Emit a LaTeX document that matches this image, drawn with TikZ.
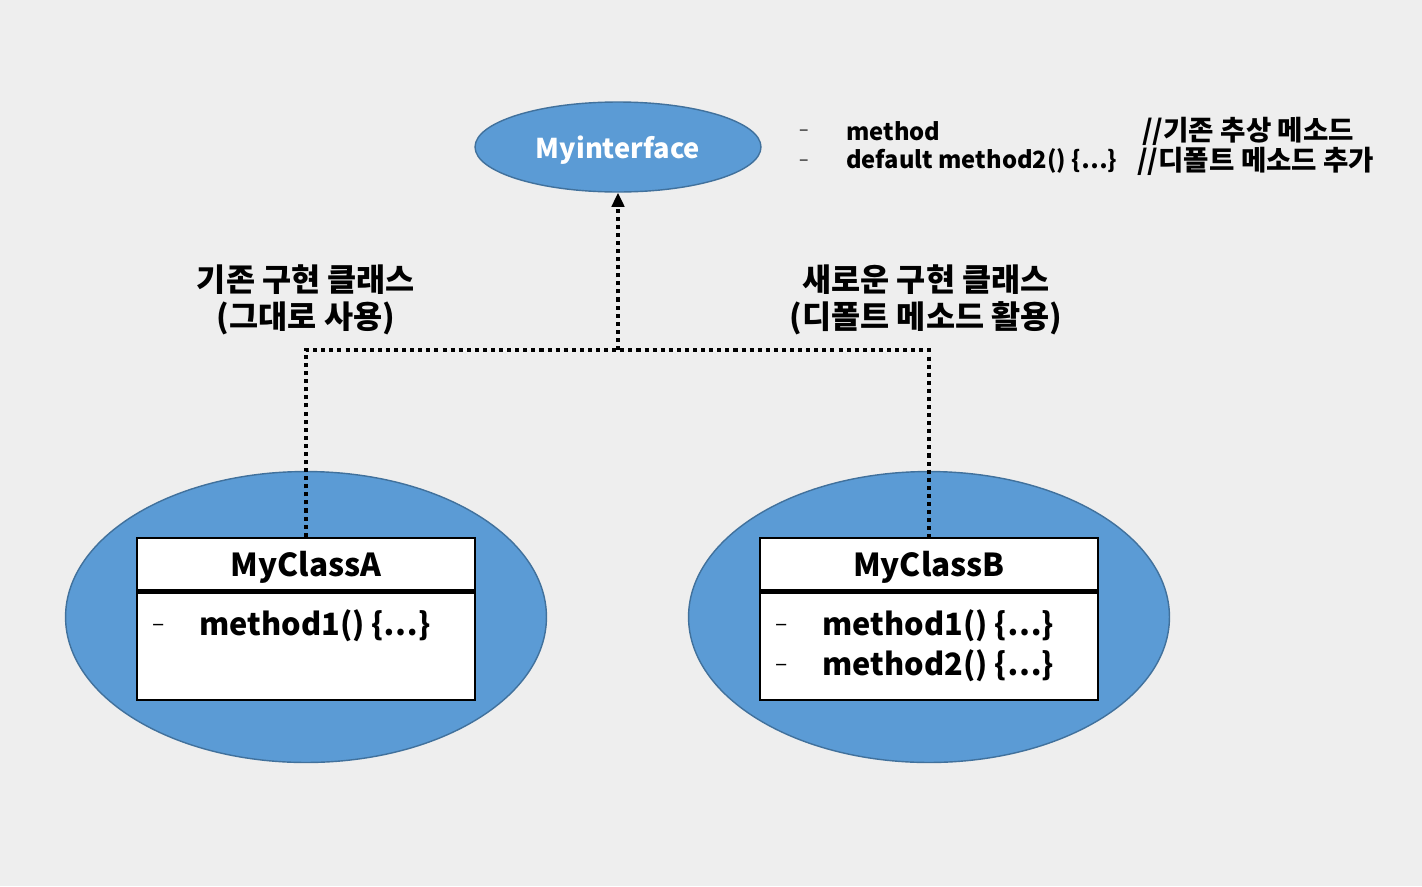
\documentclass[tikz,border=0pt]{standalone}
\usepackage{fontspec}
\setmainfont{Noto Sans CJK KR}
\usetikzlibrary{positioning, arrows.meta, shapes}

\definecolor{blobfill}{HTML}{5B9BD5}
\definecolor{blobline}{HTML}{41719C}
\definecolor{bgcol}{HTML}{EEEEEE}

\begin{document}
\begin{tikzpicture}[
	x=0.02cm, y=-0.02cm,
	iface/.style={ellipse, draw=blobline, fill=blobfill, line width=0.8pt, inner sep=0pt, minimum width=5.72cm, minimum height=1.8cm, text depth=0pt, text=white, font=\fontsize{15.5}{18}\selectfont\bfseries},
	blob/.style={ellipse, draw=blobline, fill=blobfill, line width=0.8pt, inner sep=0pt, minimum width=9.62cm, minimum height=5.82cm},
	classhead/.style={rectangle, draw, fill=white, line width=1.4pt, inner sep=0pt, minimum width=6.76cm, minimum height=1.04cm, text depth=0pt, font=\fontsize{18}{22}\selectfont\bfseries},
	classbody/.style={rectangle, draw, fill=white, line width=1.4pt, inner sep=0pt, minimum width=6.76cm, minimum height=2.15cm},
	member/.style={anchor=west, inner sep=0pt, font=\fontsize{17.5}{22}\selectfont\bfseries},
	bullet/.style={inner sep=0pt, font=\fontsize{13}{16}\selectfont},
	smallbullet/.style={inner sep=0pt, font=\fontsize{10}{12}\selectfont},
	note/.style={anchor=west, inner sep=0pt, font=\fontsize{13.5}{16}\selectfont\bfseries},
	notekr/.style={anchor=west, inner sep=0pt, font=\fontsize{15.7}{18}\selectfont\bfseries},
	textb/.style={align=center, inner sep=0pt, font=\fontsize{18}{21}\selectfont\bfseries},
	link/.style={line width=2.3pt, dash pattern=on 2.3pt off 2.3pt},
	>={Triangle[length=8pt, width=7pt]}
]

\fill[bgcol] (0,0) rectangle (1422,886);

% interface
\node[iface] (iface) at (618,147) {Myinterface};
\node[smallbullet] (n1dash) at (804,133) {–};
\node[note] (n1) at (846,131) {method};
\node[notekr] (n1c) at (1142,131) {//기존 추상 메소드};
\node[smallbullet] (n2dash) at (804,163) {–};
\node[note] (n2) at (846,161) {default method2() \{…\}};
\node[notekr] (n2c) at (1137,161) {//디폴트 메소드 추가};

% class A
\node[blob] (blobA) at (306,617) {};
\node[classhead] (hdrA) at (306,564) {MyClassA};
\node[classbody, below=0pt of hdrA] (bodyA) {};
\node[bullet] (a1dash) at (159,628) {–};
\node[member] (a1) at (199,626) {method1() \{…\}};
\node[textb] (lblA) at (306,300) {기존 구현 클래스\\(그대로 사용)};

% class B
\node[blob] (blobB) at (929,617) {};
\node[classhead] (hdrB) at (929,564) {MyClassB};
\node[classbody, below=0pt of hdrB] (bodyB) {};
\node[bullet] (b1dash) at (782,628) {–};
\node[member] (b1) at (822,626) {method1() \{…\}};
\node[bullet] (b2dash) at (782,668) {–};
\node[member] (b2) at (822,666) {method2() \{…\}};
\node[textb] (lblB) at (926,300) {새로운 구현 클래스\\(디폴트 메소드 활용)};

% connectors
\coordinate (junc) at (618,350);
\draw[link] (hdrA.north) |- (junc) -| (hdrB.north);
\draw[link, ->] (junc) -- (iface.south);
\end{tikzpicture}
\end{document}
